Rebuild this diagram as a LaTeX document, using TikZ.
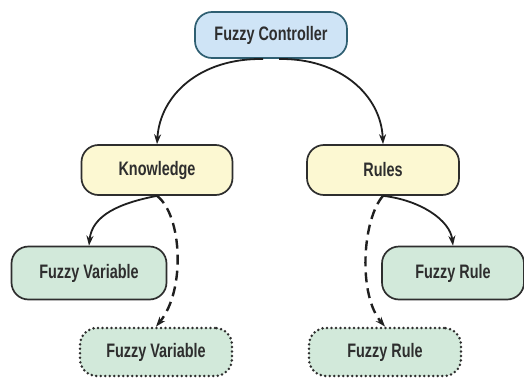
\documentclass[tikz,border=0pt]{standalone}
\usepackage{fontspec}
\setmainfont{Liberation Sans}[FakeStretch=0.74]
\usetikzlibrary{arrows.meta}
\definecolor{ctrlfill}{HTML}{CFE4F6}
\definecolor{ctrldraw}{HTML}{2F5F72}
\definecolor{yelfill}{HTML}{FCF8D2}
\definecolor{grnfill}{HTML}{D2E9DA}
\definecolor{boxdraw}{HTML}{2E2E2E}
\tikzset{
  box/.style={rounded corners=17pt, draw=boxdraw, line width=1.7pt, align=center,
    font=\fontsize{19.5}{21}\selectfont\bfseries, text=black!82, inner sep=0pt},
  ctrlbox/.style={box, fill=ctrlfill, draw=ctrldraw, minimum width=152pt, minimum height=46pt},
  yelbox/.style={box, fill=yelfill, minimum width=151pt, minimum height=50pt},
  grnbox/.style={box, fill=grnfill, minimum height=53pt},
  dotbox/.style={box, fill=grnfill, line width=2.8pt, dash pattern=on 0pt off 4.5pt, line cap=round, minimum width=152pt, minimum height=48pt},
  conn/.style={line width=1.8pt, draw=black!88, -{Stealth[length=10pt,width=7pt]}},
  dconn/.style={conn, line width=2.4pt, dash pattern=on 10pt off 6pt}
}
\begin{document}
\begin{tikzpicture}[x=1pt,y=-1pt]
\useasboundingbox[fill=white] (0,0) rectangle (524,380);
\node[ctrlbox] (ctrl) at (271,35) {Fuzzy Controller};
\node[yelbox] (know) at (157,170) {Knowledge};
\node[yelbox, minimum width=152pt] (rules) at (383,170) {Rules};
\node[grnbox, minimum width=155pt] (fv) at (89,273) {Fuzzy Variable};
\node[grnbox, minimum width=142pt] (fr) at (453,273) {Fuzzy Rule};
\node[dotbox] (fvd) at (156,352) {Fuzzy Variable};
\node[dotbox] (frd) at (385,352) {Fuzzy Rule};
\coordinate (cl) at (263,59);
\coordinate (cr) at (279,59);
\draw[conn] (cl) .. controls (200,58) and (160,95) .. (know.north);
\draw[conn] (cr) .. controls (340,58) and (381,95) .. (rules.north);
\draw[conn] (know.south) .. controls (120,203) and (92,215) .. (fv.north);
\draw[dconn] (know.south) .. controls (182,215) and (186,290) .. (fvd.north);
\draw[conn] (rules.south) .. controls (420,200) and (450,220) .. (fr.north);
\draw[dconn] (rules.south) .. controls (362,220) and (358,295) .. (frd.north);
\end{tikzpicture}
\end{document}
